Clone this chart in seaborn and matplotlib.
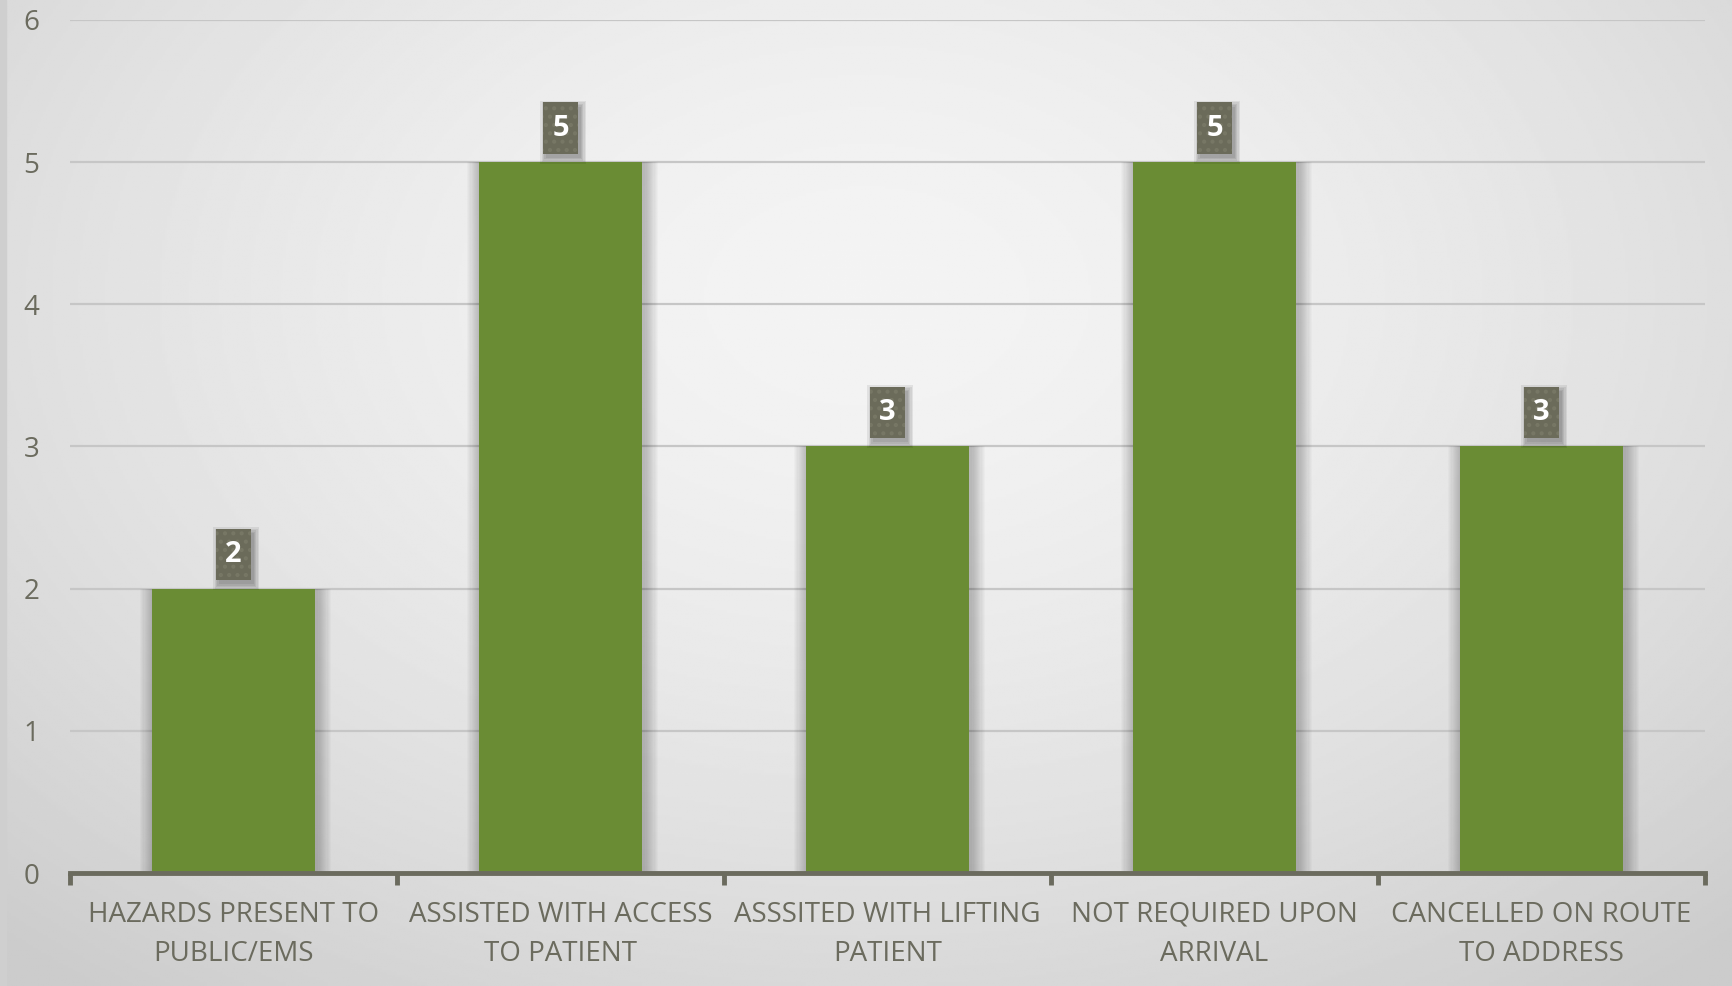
import numpy as np
import pandas as pd
import seaborn as sns
import matplotlib.pyplot as plt
from matplotlib.patches import Rectangle

categories = [
    "HAZARDS PRESENT TO\nPUBLIC/EMS",
    "ASSISTED WITH ACCESS\nTO PATIENT",
    "ASSSITED WITH LIFTING\nPATIENT",
    "NOT REQUIRED UPON\nARRIVAL",
    "CANCELLED ON ROUTE\nTO ADDRESS",
]
counts = [2, 5, 3, 5, 3]
y_ticks = [0, 1, 2, 3, 4, 5, 6]

BAR = "#6a8c34"
TEXT = "#6b6b5e"
BOX = "#6b6b5a"

sns.set_theme(style="white")
plt.rcParams["font.family"] = ["Open Sans", "DejaVu Sans"]
plt.rcParams["hatch.linewidth"] = 1.8

fig = plt.figure(figsize=(17.33, 9.86), dpi=100)

# radial grey background
bg = fig.add_axes([0, 0, 1, 1], zorder=-10)
yy, xx = np.mgrid[0:1:400j, 0:1:700j]
r = np.sqrt(((xx - 0.5) / 0.75) ** 2 + ((yy - 0.3) / 0.9) ** 2)
shade = np.clip(0.955 - 0.16 * r ** 1.6, 0.80, 0.96)
bg.imshow(shade, cmap="gray", vmin=0, vmax=1, extent=[0, 1, 1, 0], aspect="auto")
bg.axvspan(0, 0.0035, color="#cfcfcf")
bg.set_xlim(0, 1)
bg.set_ylim(1, 0)
bg.axis("off")

ax = fig.add_axes([70 / 1733, 1 - 873 / 986, (1705 - 70) / 1733, (873 - 20) / 986])
ax.patch.set_alpha(0)

df = pd.DataFrame({"category": categories, "count": counts})

# soft shadows behind the bars
xpos = np.arange(len(counts))
for k in range(12):
    ax.bar(xpos + 0.006, counts, width=0.5 + 0.007 * (k + 1),
           color="black", alpha=0.018, zorder=1, linewidth=0)

sns.barplot(data=df, x="category", y="count", color=BAR, width=0.5,
            saturation=1, ax=ax, zorder=3, linewidth=0)

ax.set_ylim(0, 6)
ax.set_xlim(-0.5, len(categories) - 0.5)
ax.set_yticks(y_ticks)
ax.yaxis.grid(True, color="#c6c6c6", linewidth=1.6, zorder=0)
ax.set_axisbelow(True)
for s in ["top", "right", "left"]:
    ax.spines[s].set_visible(False)
ax.spines["bottom"].set_color(TEXT)
ax.spines["bottom"].set_linewidth(3.5)
ax.spines["bottom"].set_zorder(5)

ax.set_xlabel("")
ax.set_ylabel("")
ax.tick_params(axis="y", length=0, labelsize=20, labelcolor=TEXT, pad=22)
ax.tick_params(axis="x", length=0, labelsize=20, labelcolor=TEXT, pad=20)
for lbl in ax.get_xticklabels():
    lbl.set_linespacing(1.55)

# boundary tick marks below the axis
for b in np.arange(-0.5, len(categories), 1.0):
    ax.plot([b, b], [0, -0.085], color=TEXT, lw=3.5, clip_on=False, zorder=5,
            solid_capstyle="butt")

# value callouts: dotted dark box with a soft drop shadow above each bar
bw, bh, gap = 0.107, 0.36, 0.06
for i, v in enumerate(counts):
    x0, y0 = i - bw / 2, v + gap
    for k in range(5):
        grow = 0.004 * k
        ax.add_patch(Rectangle((x0 + 0.008 - grow, y0 - 0.03 - grow * 2.6),
                               bw + 2 * grow, bh + 2 * grow * 2.6,
                               facecolor="black", alpha=0.07, linewidth=0, zorder=5))
    ax.add_patch(Rectangle((x0, y0), bw, bh, facecolor=BOX, edgecolor="#777765",
                           hatch="..", linewidth=0, zorder=6))
    ax.text(i, y0 + bh / 2, str(v), ha="center", va="center",
            fontsize=21, fontweight="bold", color="white", zorder=7)

fig.savefig("out.png", dpi=100)
